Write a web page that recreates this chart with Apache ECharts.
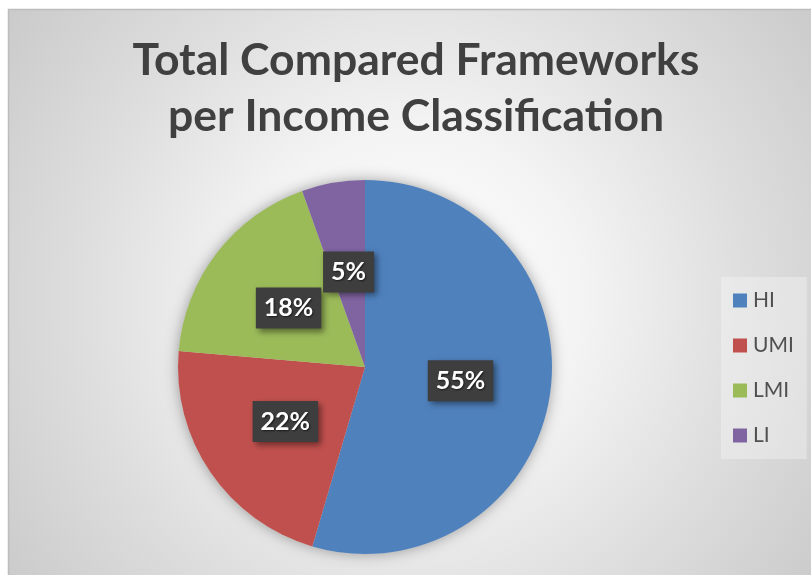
<!DOCTYPE html>
<html>
<head>
<meta charset="utf-8">
<script src="https://cdn.jsdelivr.net/npm/echarts@6/dist/echarts.min.js"></script>
<style>
html,body{margin:0;padding:0;background:#fff;}
#chart{width:811px;height:575px;}
</style>
</head>
<body>
<div id="chart"></div>
<script>
const titleLines = ['Total Compared Frameworks', 'per Income Classification'];
const categories = ['HI', 'UMI', 'LMI', 'LI'];
const counts = [30, 12, 10, 3];
const colors = ['#4f81bd', '#c0504d', '#9bbb59', '#8064a2'];

const chart = echarts.init(document.getElementById('chart'), null, {renderer: 'canvas'});

const pieData = categories.map((c, i) => ({name: c, value: counts[i], itemStyle: {color: colors[i]}}));

chart.setOption({
  animation: false,
  backgroundColor: '#ffffff',
  graphic: [
    {
      type: 'rect', z: -10, silent: true,
      shape: {x: 8.5, y: 9.5, width: 810, height: 580},
      style: {
        fill: {
          type: 'radial', x: 0.5, y: 0.5, r: 0.95,
          colorStops: [
            {offset: 0, color: '#ffffff'},
            {offset: 0.3, color: '#f4f4f4'},
            {offset: 0.6, color: '#dedede'},
            {offset: 1, color: '#c4c4c4'}
          ]
        },
        stroke: '#bdbdbd', lineWidth: 1.5
      }
    },
    {
      type: 'text', z: 10, silent: true,
      x: 416, y: 33,
      style: {
        text: titleLines.join('\n'),
        font: 'bold 44.5px Lato',
        fill: '#404040',
        align: 'center',
        verticalAlign: 'top',
        lineHeight: 56
      }
    }
  ],
  legend: {
    orient: 'vertical',
    left: 721, top: 277,
    padding: [13, 13, 13, 12],
    backgroundColor: 'rgba(255,255,255,0.3)',
    itemWidth: 14, itemHeight: 14, itemGap: 24,
    icon: 'rect',
    data: categories,
    textStyle: {fontFamily: 'Lato', fontSize: 21, color: '#505050', lineHeight: 21, padding: [0, 0, 0, 1]}
  },
  series: [
    {
      type: 'pie', silent: true, z: 1,
      center: [365, 367], radius: 187,
      label: {show: false}, labelLine: {show: false},
      data: [{value: 1, name: '', itemStyle: {color: '#d0d0d0', shadowBlur: 14, shadowColor: 'rgba(0,0,0,0.35)'}}],
      tooltip: {show: false}
    },
    {
      type: 'pie', z: 2,
      center: [365, 367], radius: 187,
      startAngle: 90, clockwise: true,
      data: pieData,
      itemStyle: {borderWidth: 0},
      label: {
        show: true,
        position: 'inside',
        formatter: p => Math.round(p.percent) + '%',
        fontFamily: 'Lato', fontWeight: 'bold', fontSize: 25,
        lineHeight: 29,
        color: '#ffffff',
        backgroundColor: '#3e3e3e',
        padding: [6, 8, 6, 8],
        shadowBlur: 6, shadowOffsetX: 3, shadowOffsetY: 3, shadowColor: 'rgba(0,0,0,0.45)',
        textShadowBlur: 2, textShadowOffsetX: 1, textShadowOffsetY: 1, textShadowColor: 'rgba(0,0,0,0.6)'
      },
      labelLine: {show: false}
    }
  ]
});
</script>
</body>
</html>
